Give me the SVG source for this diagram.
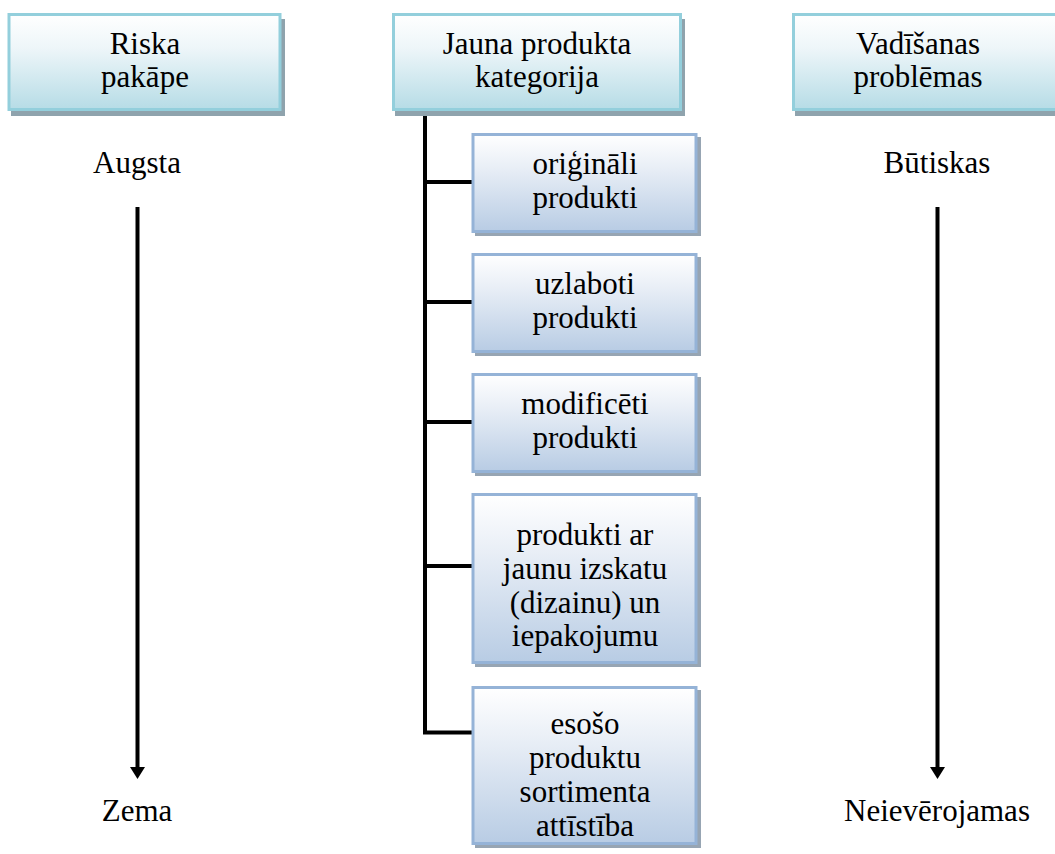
<svg xmlns="http://www.w3.org/2000/svg" width="1055" height="854" viewBox="0 0 1055 854">
  <defs>
    <linearGradient id="gTop" x1="0" y1="0" x2="0" y2="1">
      <stop offset="0" stop-color="#ffffff"/>
      <stop offset="0.35" stop-color="#eef6f9"/>
      <stop offset="1" stop-color="#b6dce6"/>
    </linearGradient>
    <linearGradient id="gSub" x1="0" y1="0" x2="0" y2="1">
      <stop offset="0" stop-color="#ffffff"/>
      <stop offset="0.35" stop-color="#e8eef6"/>
      <stop offset="1" stop-color="#b8cce4"/>
    </linearGradient>
    <marker id="arrow" markerUnits="userSpaceOnUse" markerWidth="12" markerHeight="15" refX="0" refY="7.5" orient="auto" viewBox="0 0 12 15">
      <path d="M0,0 L12,7.5 L0,15 Z" fill="#000"/>
    </marker>
    <style>
      .shadow { fill: #8fa3ad; }
      .shadowSub { fill: #97a5b3; }
      .top { fill: url(#gTop); stroke: #93cfdc; stroke-width: 3; }
      .sub { fill: url(#gSub); stroke: #95b3d7; stroke-width: 3; }
      text { font-family: "Liberation Serif", "Times New Roman", serif; font-size: 31px; fill: #000; text-anchor: middle; }
      .conn { stroke: #000; stroke-width: 4; fill: none; }
      .arr { stroke: #000; stroke-width: 4; fill: none; }
    </style>
  </defs>

  <g id="connectors">
    <path class="conn" d="M425,110 V732.5 H472"/>
    <path class="conn" d="M425,182 H472"/>
    <path class="conn" d="M425,302 H472"/>
    <path class="conn" d="M425,422 H472"/>
    <path class="conn" d="M425,566 H472"/>
    <path class="arr" d="M137.5,207 V767" marker-end="url(#arrow)"/>
    <path class="arr" d="M937.5,207 V767" marker-end="url(#arrow)"/>
  </g>

  <g id="riska">
    <rect class="shadow" x="11" y="19" width="274" height="97"/>
    <rect class="top" x="9" y="14.5" width="271" height="95"/>
    <text x="145" y="54">Riska</text>
    <text x="145" y="87">pakāpe</text>
  </g>

  <g id="kategorija">
    <rect class="shadow" x="395" y="19" width="290" height="97"/>
    <rect class="top" x="393.5" y="14.5" width="287" height="95"/>
    <text x="537" y="54">Jauna produkta</text>
    <text x="537" y="87">kategorija</text>
  </g>

  <g id="vadisana">
    <rect class="shadow" x="795" y="19" width="274" height="97"/>
    <rect class="top" x="793.5" y="14.5" width="271" height="95"/>
    <text x="918" y="54">Vadīšanas</text>
    <text x="918" y="87">problēmas</text>
  </g>

  <g id="augsta"><text x="137" y="173">Augsta</text></g>
  <g id="zema"><text x="137" y="821">Zema</text></g>
  <g id="butiskas"><text x="937" y="173">Būtiskas</text></g>
  <g id="neieverojamas"><text x="937" y="821">Neievērojamas</text></g>

  <g id="originali">
    <rect class="shadowSub" x="475" y="137" width="226" height="99"/>
    <rect class="sub" x="473" y="134.5" width="223" height="97"/>
    <text x="585" y="174">oriģināli</text>
    <text x="585" y="208">produkti</text>
  </g>

  <g id="uzlaboti">
    <rect class="shadowSub" x="475" y="257" width="226" height="99"/>
    <rect class="sub" x="473" y="254.5" width="223" height="97"/>
    <text x="585" y="294">uzlaboti</text>
    <text x="585" y="328">produkti</text>
  </g>

  <g id="modificeti">
    <rect class="shadowSub" x="475" y="377" width="226" height="99"/>
    <rect class="sub" x="473" y="374.5" width="223" height="97"/>
    <text x="585" y="414">modificēti</text>
    <text x="585" y="448">produkti</text>
  </g>

  <g id="izskats">
    <rect class="shadowSub" x="475" y="497" width="226" height="170"/>
    <rect class="sub" x="473" y="494.5" width="223" height="168"/>
    <text x="585" y="545">produkti ar</text>
    <text x="585" y="579">jaunu izskatu</text>
    <text x="585" y="613">(dizainu) un</text>
    <text x="585" y="646">iepakojumu</text>
  </g>

  <g id="sortiments">
    <rect class="shadowSub" x="475" y="690" width="226" height="158"/>
    <rect class="sub" x="473" y="687.5" width="223" height="156"/>
    <text x="585" y="734">esošo</text>
    <text x="585" y="768">produktu</text>
    <text x="585" y="802">sortimenta</text>
    <text x="585" y="836">attīstība</text>
  </g>
</svg>
